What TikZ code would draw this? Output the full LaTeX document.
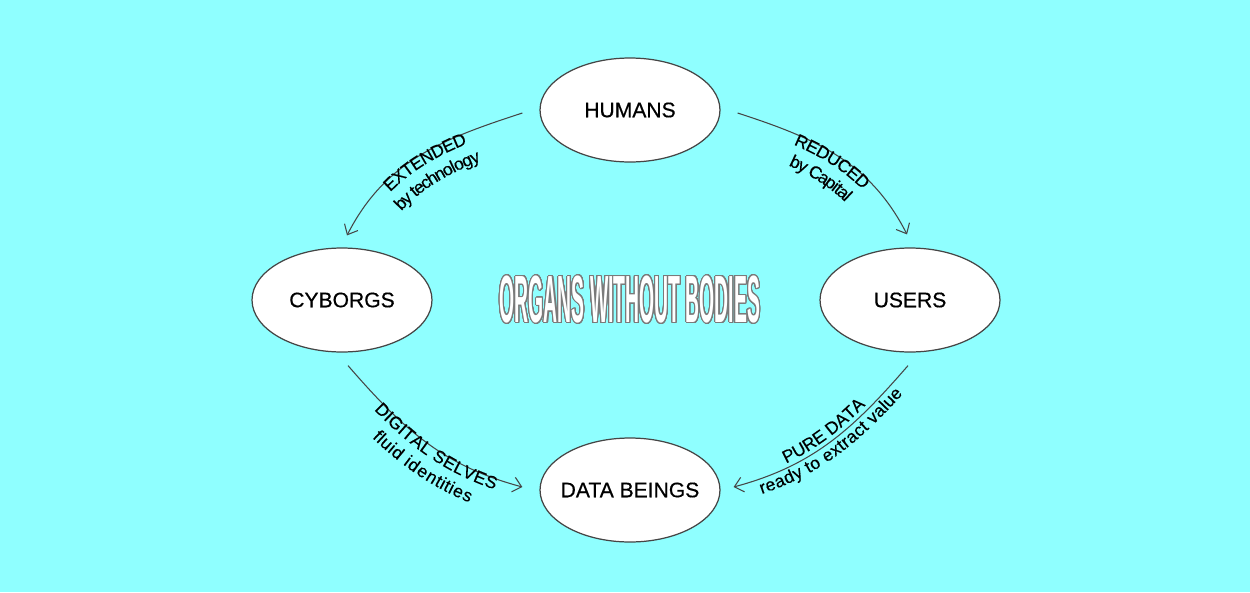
\documentclass[tikz,border=0pt]{standalone}
\usepackage{fontspec}
\setmainfont{Liberation Sans}
\newfontfamily\stagefont[FakeBold=0.5]{Liberation Sans}
\newfontfamily\flowfont[FakeBold=0.25]{Liberation Sans}
\usepackage{contour}
\contourlength{0.6pt}
\contournumber{32}
\usetikzlibrary{arrows.meta, shapes.geometric, decorations.text}
\definecolor{pageback}{HTML}{8FFFFF}
\definecolor{edgegray}{HTML}{454545}
\definecolor{titleline}{HTML}{7A7A7A}

\begin{document}
\begin{tikzpicture}[
    x=0.02cm, y=-0.02cm,
    stage/.style={
        draw=edgegray,
        ellipse,
        fill=white,
        line width=0.7pt,
        minimum width=3.6cm,
        minimum height=2.08cm,
        inner sep=0pt,
        font=\stagefont\fontsize{12}{14}\selectfont
    },
    flow/.style={
        -{Straight Barb[length=1.7mm, width=3mm]},
        line width=0.6pt,
        edgegray
    },
    flowtext/.style n args={2}{
        decorate,
        decoration={
            text along path,
            text align=center,
            raise=#2,
            text={|\flowfont\fontsize{10}{12}\selectfont|#1}
        }
    },
    towardend/.style={decoration={text align={center, left indent=#1}}}
]
    \fill[pageback] (0,0) rectangle (1250,592);

    \node[stage] (humans) at (630,110) {\makebox[0pt]{HUMANS}};
    \node[stage] (cyborgs) at (342,300) {\makebox[0pt]{CYBORGS}};
    \node[stage] (users) at (910,300) {\makebox[0pt]{USERS}};
    \node[stage] (dataBeings) at (630,490) {\makebox[0pt]{DATA BEINGS}};

    \node (titleText) at (630,300)
        {\fontsize{38}{40}\selectfont\contour{titleline}{\scalebox{0.29}[1]{\color{white}\bfseries ORGANS WITHOUT BODIES}}};

    % loose ends of the connectors, just off the ellipses
    \coordinate (humansOutL) at ([shift={(-17,3)}]humans.west);
    \coordinate (humansOutR) at ([shift={(17,3)}]humans.east);
    \coordinate (cyborgsTop) at ([shift={(5,-12)}]cyborgs.north);
    \coordinate (cyborgsBottom) at ([shift={(6,13)}]cyborgs.south);
    \coordinate (usersTop) at ([shift={(-3,-13)}]users.north);
    \coordinate (usersBottom) at ([shift={(-2,13)}]users.south);
    \coordinate (dataInL) at ([shift={(-17,-3)}]dataBeings.west);
    \coordinate (dataInR) at ([shift={(13,-3)}]dataBeings.east);

    % connectors
    \draw[flow] (humansOutL) to[out=198, in=63] (cyborgsTop);
    \draw[flow] (humansOutR) to[out=-18, in=117] (usersTop);
    \draw[flow] (cyborgsBottom) to[out=-49, in=165] (dataInL);
    \draw[flow] (usersBottom) to[out=229, in=15] (dataInR);

    % labels along the connectors
    \path[flowtext={EXTENDED}{-6pt}] (cyborgsTop) to[out=63, in=198] (humansOutL);
    \path[flowtext={by technology}{-18pt}] (cyborgsTop) to[out=63, in=198] (humansOutL);
    \path[flowtext={REDUCED}{-6pt}] (humansOutR) to[out=-18, in=117] (usersTop);
    \path[flowtext={by Capital}{-18pt}] (humansOutR) to[out=-18, in=117] (usersTop);
    \path[flowtext={DIGITAL SELVES}{-6pt}, towardend=14pt] (cyborgsBottom) to[out=-49, in=165] (dataInL);
    \path[flowtext={fluid identities}{-18pt}, towardend=14pt] (cyborgsBottom) to[out=-49, in=165] (dataInL);
    \path[flowtext={PURE DATA}{2.5pt}] (dataInR) to[out=15, in=229] (usersBottom);
    \path[flowtext={ready to extract value}{-8.5pt}] (dataInR) to[out=15, in=229] (usersBottom);
\end{tikzpicture}
\end{document}
